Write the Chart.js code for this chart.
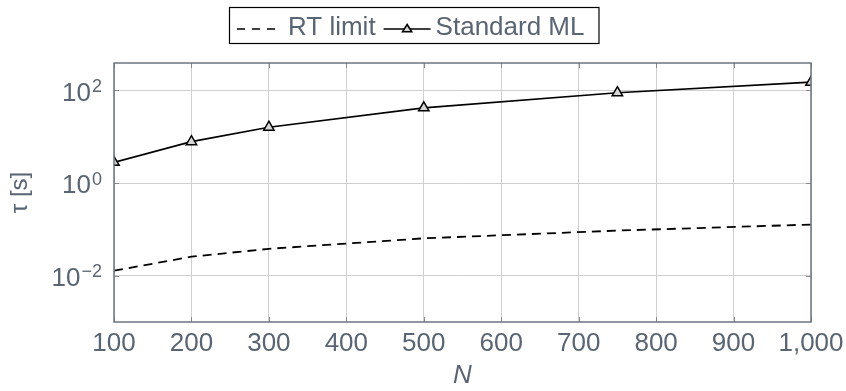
<!DOCTYPE html>
<html>
<head>
<meta charset="utf-8">
<script src="https://cdn.jsdelivr.net/npm/chart.js@4/dist/chart.umd.min.js"></script>
<style>
  html, body { margin: 0; padding: 0; background: #ffffff; }
  #wrap { width: 846px; height: 391px; }
</style>
</head>
<body>
<div id="wrap"><canvas id="c" width="846" height="391"></canvas></div>
<script>
// Problem sizes and measured run times (seconds)
const N = [100, 200, 300, 500, 750, 1000];
const rtLimit = [0.0128, 0.0257, 0.038, 0.064, 0.094, 0.127];
const standardML = [2.8, 7.8, 16.0, 42, 89, 150];

const xTickValues = [100, 200, 300, 400, 500, 600, 700, 800, 900, 1000];
const yTickValues = [1e-2, 1e0, 1e2];
const yTickBase = '10';
const yTickExponents = ['\u22122', '0', '2'];

const seriesNames = ['RT limit', 'Standard ML'];

const TEXT = '#5a6573';
const AXIS = '#6b7580';
const GRID = '#cfcfcf';
const FONT = '"Liberation Sans", Arial, Helvetica, sans-serif';

const toPoints = (xs, ys) => xs.map((x, i) => ({ x: x, y: ys[i] }));

// Power-of-ten labels for the log axis, drawn with a raised exponent
const powerLabels = {
  id: 'powerLabels',
  afterDraw(chart) {
    const { ctx, chartArea: a, scales } = chart;
    ctx.save();
    ctx.fillStyle = TEXT;
    const rightEdge = a.left - 12;
    yTickValues.forEach((v, i) => {
      const py = scales.y.getPixelForValue(v);
      ctx.font = '18px ' + FONT;
      const ew = ctx.measureText(yTickExponents[i]).width;
      ctx.textAlign = 'right';
      ctx.textBaseline = 'alphabetic';
      ctx.fillText(yTickExponents[i], rightEdge, py + 1.5);
      ctx.font = '26px ' + FONT;
      ctx.textBaseline = 'middle';
      ctx.fillText(yTickBase, rightEdge - ew - 1, py + 3);
    });
    ctx.restore();
  }
};

// Frame, inward tick marks and the boxed legend
const framePlugin = {
  id: 'frame',
  afterDatasetsDraw(chart) {
    const { ctx, chartArea: a, scales } = chart;
    ctx.save();
    ctx.strokeStyle = '#8a8a8a';
    ctx.lineWidth = 1;
    const t = 5;
    xTickValues.forEach(v => {
      const px = Math.round(scales.x.getPixelForValue(v)) + 0.5;
      ctx.beginPath();
      ctx.moveTo(px, a.bottom); ctx.lineTo(px, a.bottom - t);
      ctx.moveTo(px, a.top); ctx.lineTo(px, a.top + t);
      ctx.stroke();
    });
    yTickValues.forEach(v => {
      const py = Math.round(scales.y.getPixelForValue(v)) + 0.5;
      ctx.beginPath();
      ctx.moveTo(a.left, py); ctx.lineTo(a.left + t, py);
      ctx.moveTo(a.right, py); ctx.lineTo(a.right - t, py);
      ctx.stroke();
    });
    ctx.strokeStyle = AXIS;
    ctx.lineWidth = 1.5;
    ctx.strokeRect(a.left, a.top, a.right - a.left, a.bottom - a.top);
    ctx.restore();
  },
  afterDraw(chart) {
    const { ctx } = chart;
    ctx.save();
    ctx.font = '26px ' + FONT;
    ctx.textBaseline = 'middle';
    const w1 = ctx.measureText(seriesNames[0]).width;
    const w2 = ctx.measureText(seriesNames[1]).width;
    const padL = 8, s1 = 40, g1 = 11, g2 = 8, s2 = 47, g3 = 5, padR = 14;
    const total = padL + s1 + g1 + w1 + g2 + s2 + g3 + w2 + padR;
    const cx = 414;
    const left = Math.round(cx - total / 2);
    const top = 7, bottom = 43;
    const midY = 29;
    ctx.strokeStyle = '#000000';
    ctx.lineWidth = 1.2;
    ctx.strokeRect(left + 0.5, top + 0.5, total, bottom - top);
    let x = left + padL;
    ctx.lineWidth = 1.6;
    ctx.setLineDash([8, 7]);
    ctx.beginPath(); ctx.moveTo(x, midY); ctx.lineTo(x + s1, midY); ctx.stroke();
    ctx.setLineDash([]);
    x += s1 + g1;
    ctx.fillStyle = TEXT;
    ctx.fillText(seriesNames[0], x, midY - 1);
    x += w1 + g2;
    ctx.beginPath(); ctx.moveTo(x, midY); ctx.lineTo(x + s2, midY); ctx.stroke();
    const tx = x + s2 / 2, r = 4.5;
    ctx.beginPath();
    ctx.moveTo(tx, midY - r);
    ctx.lineTo(tx + r, midY + r * 0.6);
    ctx.lineTo(tx - r, midY + r * 0.6);
    ctx.closePath();
    ctx.fillStyle = '#d6d6d6';
    ctx.fill();
    ctx.stroke();
    x += s2 + g3;
    ctx.fillStyle = TEXT;
    ctx.fillText(seriesNames[1], x, midY - 1);
    ctx.restore();
  }
};

new Chart(document.getElementById('c'), {
  type: 'line',
  data: {
    datasets: [
      {
        label: seriesNames[0],
        data: toPoints(N, rtLimit),
        borderColor: '#000000',
        borderWidth: 1.8,
        borderDash: [9, 6],
        pointRadius: 0,
        fill: false,
        tension: 0
      },
      {
        label: seriesNames[1],
        data: toPoints(N, standardML),
        borderColor: '#000000',
        borderWidth: 1.7,
        pointStyle: 'triangle',
        pointRadius: 6,
        pointBorderWidth: 1.5,
        pointBorderColor: '#000000',
        pointBackgroundColor: '#d6d6d6',
        fill: false,
        tension: 0
      }
    ]
  },
  options: {
    responsive: false,
    animation: false,
    devicePixelRatio: 1,
    layout: { padding: { left: 0, right: 35, top: 63, bottom: 0 } },
    plugins: {
      legend: { display: false },
      tooltip: { enabled: false }
    },
    scales: {
      x: {
        type: 'linear',
        min: 100,
        max: 1000,
        afterBuildTicks(scale) { scale.ticks = xTickValues.map(v => ({ value: v })); },
        afterFit(scale) { scale.height = 69; },
        ticks: {
          color: TEXT,
          font: { family: FONT, size: 26 },
          padding: 2,
          maxRotation: 0,
          autoSkip: false
        },
        grid: { color: GRID, lineWidth: 1, drawTicks: true, tickLength: 4, tickColor: 'rgba(0,0,0,0)' },
        border: { display: false },
        title: {
          display: true,
          text: 'N',
          color: TEXT,
          font: { family: FONT, size: 26, style: 'italic' },
          padding: { top: 0, bottom: 0 }
        }
      },
      y: {
        type: 'logarithmic',
        min: 1e-3,
        max: 390,
        afterBuildTicks(scale) { scale.ticks = yTickValues.map(v => ({ value: v })); },
        afterFit(scale) { scale.width = 114; },
        ticks: { display: false },
        grid: { color: GRID, lineWidth: 1, drawTicks: false },
        border: { display: false },
        title: {
          display: true,
          text: '\u03C4 [s]',
          color: TEXT,
          font: { family: FONT, size: 24 },
          padding: { top: 6, bottom: 0 }
        }
      }
    }
  },
  plugins: [framePlugin, powerLabels]
});
</script>
</body>
</html>
